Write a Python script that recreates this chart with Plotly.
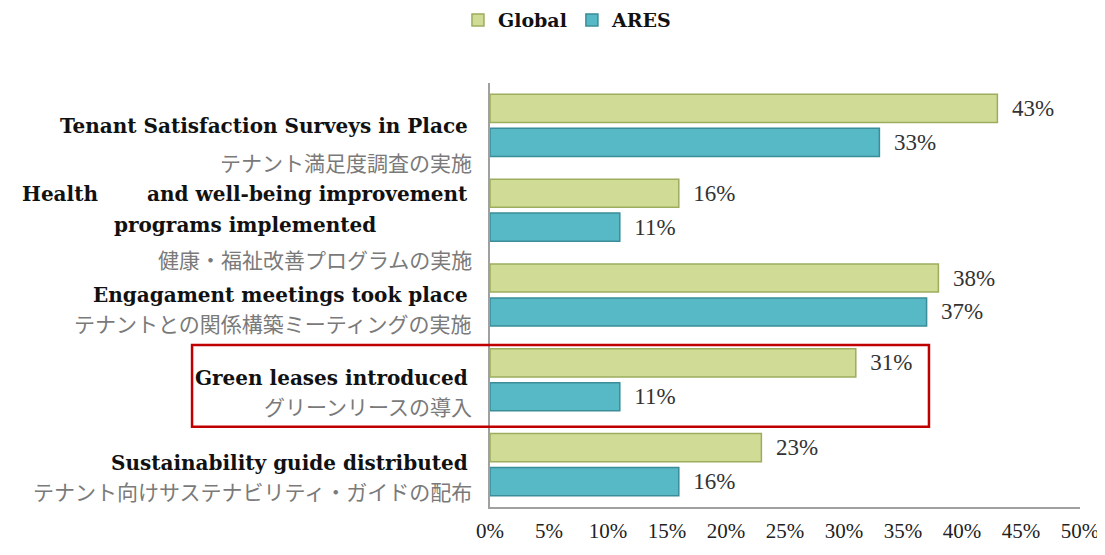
import plotly.graph_objects as go

categories = ["Tenant Satisfaction Surveys in Place",
              "Health and well-being improvement programs implemented",
              "Engagament meetings took place",
              "Green leases introduced",
              "Sustainability guide distributed"]
japanese = ["テナント満足度調査の実施",
            "健康・福祉改善プログラムの実施",
            "テナントとの関係構築ミーティングの実施",
            "グリーンリースの導入",
            "テナント向けサステナビリティ・ガイドの配布"]
global_vals = [43, 16, 38, 31, 23]
ares_vals = [33, 11, 37, 11, 16]
tick_vals = [0, 5, 10, 15, 20, 25, 30, 35, 40, 45, 50]
tick_text = [f"{v}%" for v in tick_vals]

SERIF = "DejaVu Serif"
NUMF = "Liberation Serif"
JP = "Noto Sans CJK JP"

fig = go.Figure()
fig.add_trace(go.Bar(
    y=categories, x=global_vals, orientation="h", name="<b>Global</b>",
    marker=dict(color="#d0dc96", line=dict(color="#9cad5e", width=1.5)),
    texttemplate="\u00a0\u00a0%{x}%", textposition="outside",
    textfont=dict(family=NUMF, size=23, color="#333333"), cliponaxis=False))
fig.add_trace(go.Bar(
    y=categories, x=ares_vals, orientation="h", name="<b>ARES</b>",
    marker=dict(color="#56b9c5", line=dict(color="#3b8d98", width=1.5)),
    texttemplate="\u00a0\u00a0%{x}%", textposition="outside",
    textfont=dict(family=NUMF, size=23, color="#333333"), cliponaxis=False))

eng_font = dict(family=SERIF, size=20, color="#111111")
jp_font = dict(family=JP, size=21, color="#7a7a7a")

annotations = []
eng_shift = {0: -1, 2: 0, 3: 2, 4: 2}
jp_shift = [-37, -49, -28, -26, -26]
for i, c in enumerate(categories):
    if i == 1:
        annotations.append(dict(xref="paper", x=0, xshift=-20, y=c, yref="y", yshift=16,
                                text="<b>and well-being improvement</b>", showarrow=False,
                                xanchor="right", font=eng_font))
        annotations.append(dict(xref="paper", x=0, xshift=-470, y=c, yref="y", yshift=16,
                                text="<b>Health</b>", showarrow=False,
                                xanchor="left", font=eng_font))
        annotations.append(dict(xref="paper", x=0, xshift=-245, y=c, yref="y", yshift=-15,
                                text="<b>programs implemented</b>", showarrow=False,
                                xanchor="center", font=eng_font))
    else:
        annotations.append(dict(xref="paper", x=0, xshift=-20, y=c, yref="y", yshift=eng_shift[i],
                                text=f"<b>{c}</b>", showarrow=False,
                                xanchor="right", font=eng_font))
    annotations.append(dict(xref="paper", x=0, xshift=-16, y=c, yref="y", yshift=jp_shift[i],
                            text=japanese[i], showarrow=False,
                            xanchor="right", font=jp_font))

# page has an 8px body margin: figure drawn at (8, 8)
fig.update_layout(
    width=1097, height=547,
    margin=dict(l=482, r=25, t=75, b=48, autoexpand=False),
    paper_bgcolor="white", plot_bgcolor="white",
    barmode="group", bargap=0.2, bargroupgap=0.17,
    showlegend=True,
    legend=dict(orientation="h", xref="container", yref="container",
                x=0.51, xanchor="center", y=0.978, yanchor="middle",
                font=dict(family=SERIF, size=19, color="#111111"),
                itemwidth=30, traceorder="normal"),
    annotations=annotations,
    shapes=[dict(type="rect", xref="paper", yref="paper",
                 x0=-0.505, x1=0.744, y0=0.189, y1=0.382,
                 line=dict(color="#c00000", width=2.5))],
)
fig.update_xaxes(range=[0, 50], tickvals=tick_vals, ticktext=tick_text,
                 showgrid=False, zeroline=False, showline=True,
                 linecolor="#a0a0a0", linewidth=1.5, ticks="",
                 ticklabelstandoff=4,
                 tickfont=dict(family=NUMF, size=21, color="#222222"))
fig.update_yaxes(range=[4.5, -0.5], autorange=False, showticklabels=False, showgrid=False,
                 zeroline=False, showline=True, linecolor="#a0a0a0", linewidth=1.5,
                 ticks="")

fig.write_html("out.html")
